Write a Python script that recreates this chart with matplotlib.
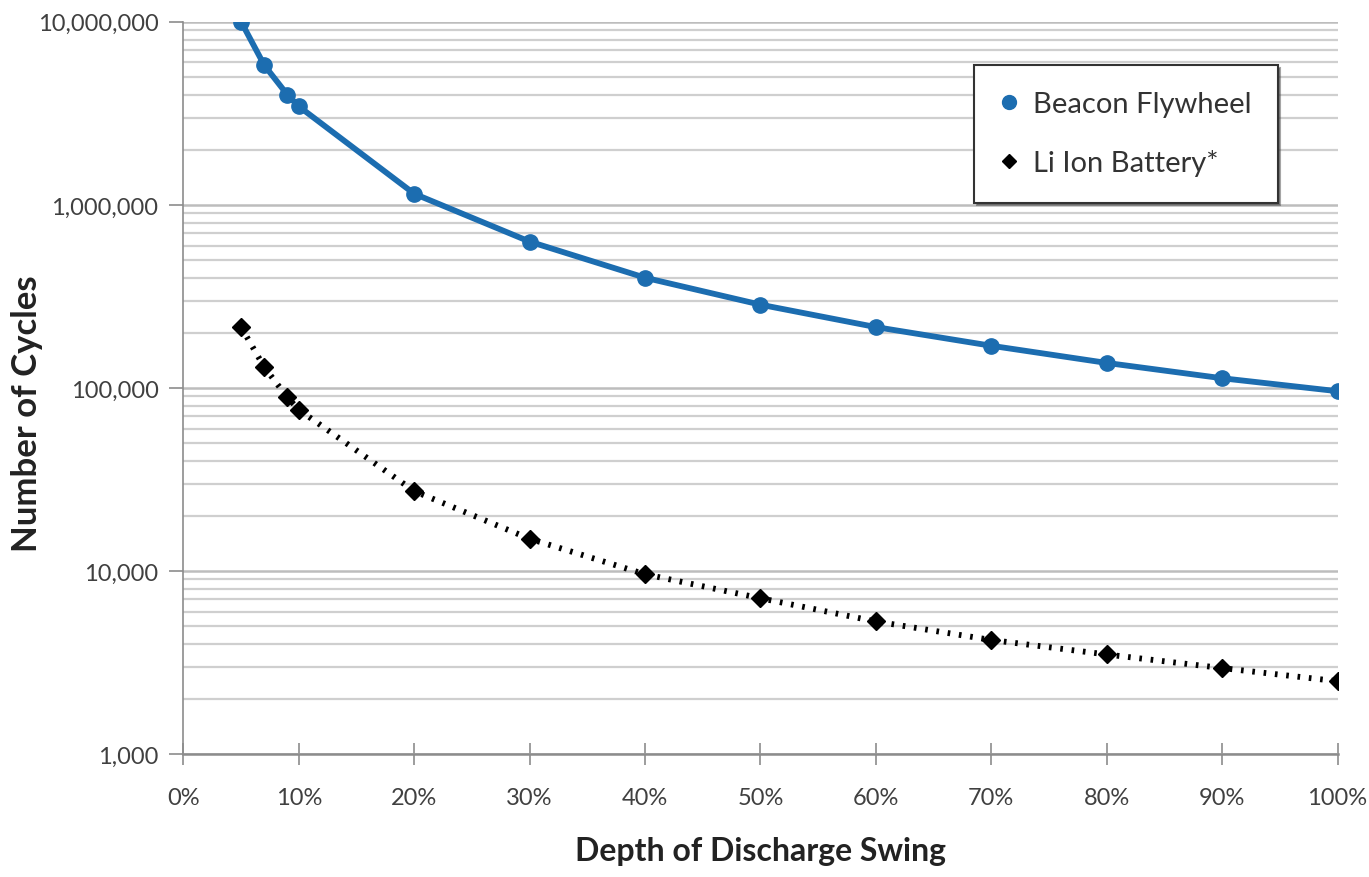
import matplotlib
matplotlib.use('Agg')
import matplotlib.pyplot as plt
from matplotlib.ticker import FuncFormatter, LogLocator, FixedLocator

plt.rcParams['font.family'] = ['Lato', 'DejaVu Sans']

# depth of discharge (%)
dod = [5, 7, 9, 10, 20, 30, 40, 50, 60, 70, 80, 90, 100]
flywheel = [1.0e7, 5.8e6, 4.0e6, 3.45e6, 1.15e6, 6.3e5, 4.0e5, 2.85e5,
            2.15e5, 1.70e5, 1.37e5, 1.13e5, 9.6e4]
li_ion = [2.15e5, 1.30e5, 8.9e4, 7.6e4, 2.73e4, 1.50e4, 9.6e3, 7.1e3,
          5.3e3, 4.2e3, 3.5e3, 2.95e3, 2.5e3]
x_ticks = [0, 10, 20, 30, 40, 50, 60, 70, 80, 90, 100]
y_ticks = [1e3, 1e4, 1e5, 1e6, 1e7]

fig = plt.figure(figsize=(13.69, 8.78), dpi=100)
ax = fig.add_axes([0.134, 0.14, 0.843, 0.834])

ax.plot(dod, flywheel, color='#1c6db0', lw=4.2, marker='o', ms=11,
        label='Beacon Flywheel', zorder=4)
ax.plot(dod, li_ion, color='black', lw=4.2, ls=(0, (0.45, 1.5)), marker='D', ms=9,
        label='Li Ion Battery*', zorder=4)

ax.set_yscale('log')
ax.set_ylim(1e3, 1e7)
ax.set_xlim(0, 100)

ax.yaxis.set_major_locator(FixedLocator(y_ticks))
ax.yaxis.set_minor_locator(LogLocator(base=10, subs=range(2, 10)))
ax.yaxis.set_major_formatter(FuncFormatter(lambda v, p: f'{int(round(v)):,}'))
ax.yaxis.set_minor_formatter(FuncFormatter(lambda v, p: ''))
ax.set_xticks(x_ticks)
ax.xaxis.set_major_formatter(FuncFormatter(lambda v, p: f'{int(v)}%'))

ax.grid(True, which='major', axis='y', color='#bdbdbd', lw=1.8)
ax.grid(True, which='minor', axis='y', color='#cfcfcf', lw=1.6)
ax.set_axisbelow(True)

for s in ['top', 'right']:
    ax.spines[s].set_visible(False)
ax.spines['left'].set_color('#8c8c8c')
ax.spines['bottom'].set_color('#8c8c8c')
ax.spines['left'].set_linewidth(1.2)
ax.spines['bottom'].set_linewidth(1.8)

ax.tick_params(axis='y', which='major', length=10, width=1.2, color='#8c8c8c',
               labelsize=17, labelcolor='#404040', pad=8)
ax.tick_params(axis='y', which='minor', length=0)
ax.tick_params(axis='x', which='major', direction='inout', length=16, width=1.2,
               color='#8c8c8c', labelsize=17, labelcolor='#404040', pad=16)

ax.set_xlabel('Depth of Discharge Swing', fontsize=23, fontweight='bold',
              color='#222222', labelpad=20)
ax.set_ylabel('Number of Cycles', fontsize=25, fontweight='bold',
              color='#222222')
ax.yaxis.set_label_coords(-0.122, 0.466)

leg = ax.legend(loc='upper right', bbox_to_anchor=(0.948, 0.941), fontsize=21,
                frameon=True, fancybox=False, shadow=True, handlelength=0.6,
                handletextpad=0.5, borderpad=0.9, labelspacing=1.1,
                borderaxespad=0)
for h in leg.legend_handles:
    h.set_linestyle('none')
leg.legend_handles[0].set_markersize(10)
leg.legend_handles[1].set_markersize(7)
leg.get_frame().set_edgecolor('#333333')
leg.get_frame().set_linewidth(1.5)
for t in leg.get_texts():
    t.set_color('#333333')

fig.savefig('out.png', dpi=100)
